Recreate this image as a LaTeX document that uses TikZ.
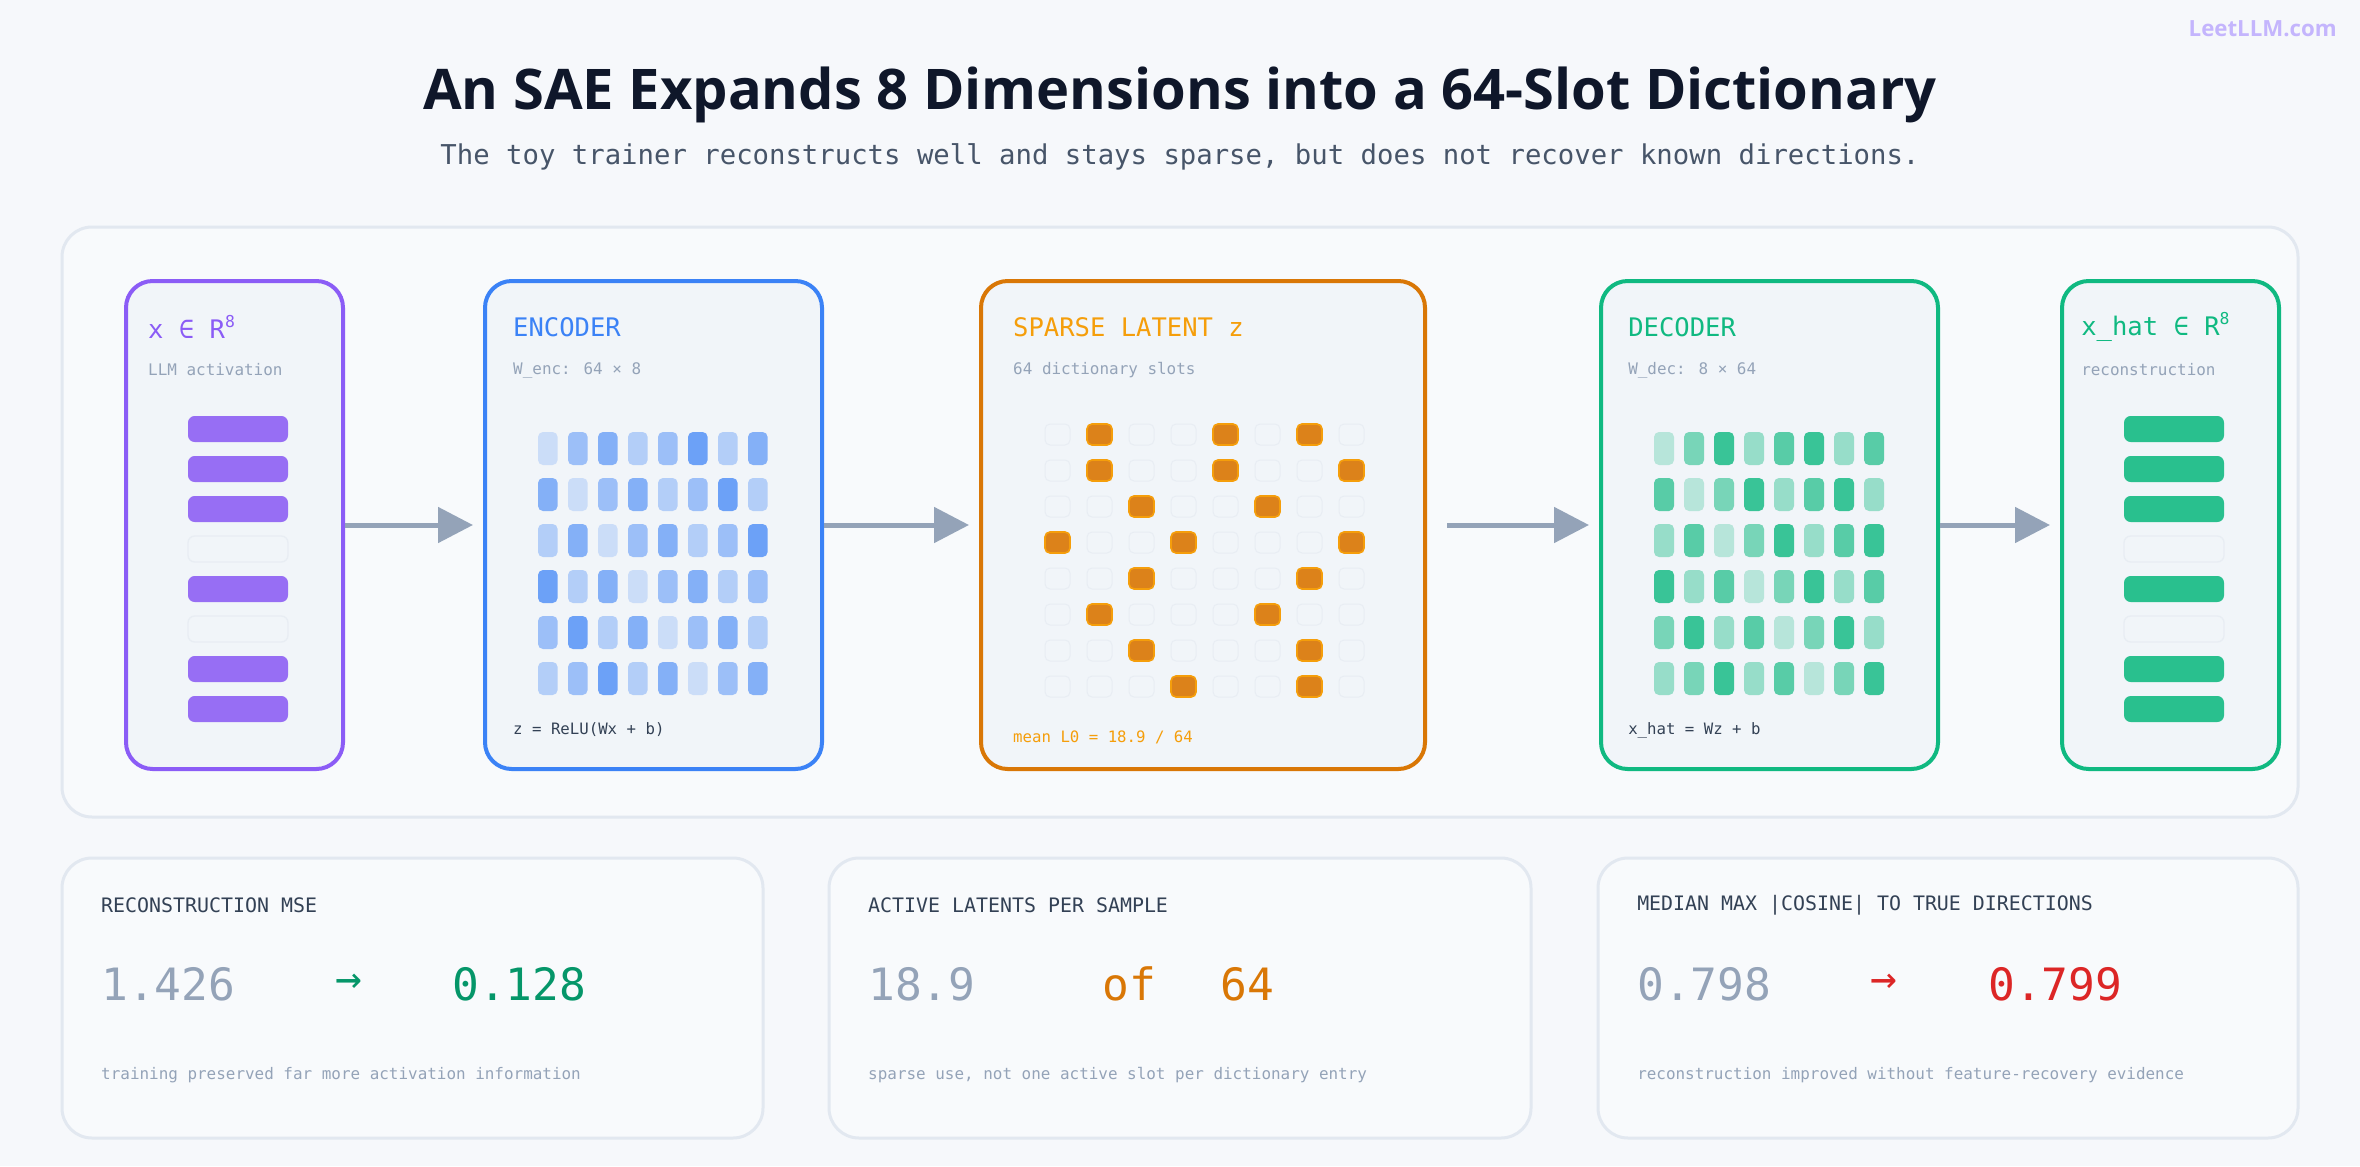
\documentclass[tikz,border=0pt]{standalone}
\usepackage{fontspec}
\usetikzlibrary{arrows.meta}
\setmainfont{Lato}
\newfontfamily\titlef{Open Sans}
\newfontfamily\monof{DejaVu Sans Mono}
\definecolor{bg}{HTML}{F6F8FB}
\definecolor{panelfill}{HTML}{F8FAFC}
\definecolor{panelline}{HTML}{E2E8F0}
\definecolor{boxfill}{HTML}{F1F5F9}
\definecolor{cpurple}{HTML}{8B5CF6}
\definecolor{cpurplebar}{HTML}{976EF4}
\definecolor{cblue}{HTML}{3B82F6}
\definecolor{corange}{HTML}{D97706}
\definecolor{corangelt}{HTML}{F59E0B}
\definecolor{cgreen}{HTML}{10B981}
\definecolor{cgreenbar}{HTML}{29C08E}
\definecolor{cslate}{HTML}{94A3B8}
\definecolor{cdark}{HTML}{334155}
\definecolor{ctitle}{HTML}{0F172A}
\definecolor{csub}{HTML}{475569}
\definecolor{cemerald}{HTML}{059669}
\definecolor{cred}{HTML}{DC2626}
\definecolor{clogo}{HTML}{C4B5FD}
\definecolor{emptyline}{HTML}{E8EDF3}
\newcommand{\supeight}{\raisebox{0.45em}{\fontsize{14pt}{14pt}\selectfont 8}}
\tikzset{
  panel/.style={draw=panelline, fill=panelfill, line width=0.9mm, rounded corners=9mm},
  stagebox/.style={line width=1.2mm, fill=boxfill, rounded corners=8mm, inner sep=0},
  arr/.style={draw=cslate, line width=1.5mm, -{Triangle[length=10.5mm,width=10.5mm]}, shorten >=3mm},
  btitle/.style={anchor=west, font=\monof\fontsize{21.8pt}{24pt}\selectfont, inner sep=0},
  bsub/.style={anchor=west, font=\monof\fontsize{13.6pt}{15pt}\selectfont, text=cslate, inner sep=0},
  bform/.style={anchor=west, font=\monof\fontsize{13.4pt}{15pt}\selectfont, inner sep=0},
  head/.style={anchor=west, font=\monof\fontsize{17pt}{19pt}\selectfont, text=cdark, inner sep=0},
  big/.style={anchor=west, font=\monof\fontsize{38pt}{40pt}\selectfont, inner sep=0},
  foot/.style={anchor=west, font=\monof\fontsize{13.6pt}{15pt}\selectfont, text=cslate, inner sep=0},
  vbar/.style={rounded corners=1.5mm},
  emptybar/.style={fill=boxfill, draw=emptyline, line width=0.4mm, rounded corners=2mm},
}
\begin{document}
\begin{tikzpicture}[x=0.3mm,y=-0.3mm]
\fill[bg] (0,0) rectangle (2360,1166);
\useasboundingbox (0,0) rectangle (2360,1166);
% logo
\node[anchor=east, text=clogo, font=\titlef\fontsize{19pt}{22pt}\selectfont\bfseries, inner sep=0] (logo) at (2337,29) {LeetLLM.com};
% title
\node[text=ctitle, inner sep=0] (title) at (1180,95) {\resizebox{454mm}{!}{\titlef\fontsize{42pt}{46pt}\selectfont\bfseries An SAE Expands 8 Dimensions into a 64-Slot Dictionary}};
\node[text=csub, font=\monof\fontsize{23.3pt}{25pt}\selectfont, inner sep=0] (subtitle) at (1180,157) {The toy trainer reconstructs well and stays sparse, but does not recover known directions.};
% main panel
\draw[panel] (62,227) rectangle (2298,817);
% stage boxes
\node[stagebox, draw=cpurple, minimum width=65.1mm, minimum height=146.4mm] (xin) at (234.5,525) {};
\node[stagebox, draw=cblue, minimum width=101.1mm, minimum height=146.4mm] (enc) at (653.5,525) {};
\node[stagebox, draw=corange, minimum width=133.2mm, minimum height=146.4mm] (sp) at (1203,525) {};
\node[stagebox, draw=cgreen, minimum width=101.1mm, minimum height=146.4mm] (dec) at (1769.5,525) {};
\node[stagebox, draw=cgreen, minimum width=65.1mm, minimum height=146.4mm] (xhat) at (2170.5,525) {};
\draw[arr] (xin.east) -- (enc.west);
\draw[arr] (enc.east) -- (sp.west);
\draw[arr] ([xshift=6mm]sp.east) -- (dec.west);
\draw[arr] (dec.east) -- (xhat.west);
% texts
\node[btitle, text=cpurple] (t1) at (148,327) {x ∈ R\supeight};
\node[bsub] (s1) at (148,370) {LLM activation};
\node[btitle, text=cblue] (t2) at (513,327) {ENCODER};
\node[bsub] (s2) at (513,370) {W\_enc: 64 × 8};
\node[bform, text=cdark] (f2) at (513,730) {z = ReLU(Wx + b)};
\node[btitle, text=corangelt] (t3) at (1013,327) {SPARSE LATENT z};
\node[bsub] (s3) at (1013,370) {64 dictionary slots};
\node[bform, text=corangelt] (f3) at (1013,737) {mean L0 = 18.9 / 64};
\node[btitle, text=cgreen] (t4) at (1628,327) {DECODER};
\node[bsub] (s4) at (1628,370) {W\_dec: 8 × 64};
\node[bform, text=cdark] (f4) at (1628,730) {x\_hat = Wz + b};
\node[btitle, text=cgreen] (t5) at (2081,327) {x\_hat ∈ R\supeight};
\node[bsub] (s5) at (2081,370) {reconstruction};
% vector bars
\foreach \i/\on in {0/1,1/1,2/1,3/0,4/1,5/0,6/1,7/1}{
  \pgfmathsetmacro{\yy}{416+40*\i}
  \ifnum\on=1
    \fill[cpurplebar, rounded corners=2mm] (188,\yy) rectangle (288,\yy+26);
    \fill[cgreenbar, rounded corners=2mm] (2124,\yy) rectangle (2224,\yy+26);
  \else
    \draw[emptybar] (188,\yy) rectangle (288,\yy+26);
    \draw[emptybar] (2124,\yy) rectangle (2224,\yy+26);
  \fi
}
% encoder / decoder grids
\foreach \r/\row in {0/{1,3,4,2,3,5,2,4},1/{4,1,3,4,2,3,5,2},2/{2,4,1,3,4,2,3,5},3/{5,2,4,1,3,4,2,3},4/{3,5,2,4,1,3,4,2},5/{2,3,5,2,4,1,3,4}}{
  \foreach \v [count=\c from 0] in \row {
    \pgfmathsetmacro{\pct}{int(8+13*\v)}
    \pgfmathsetmacro{\yy}{432+46*\r}
    \pgfmathsetmacro{\xx}{538+30*\c}
    \fill[vbar, cblue!\pct!boxfill] (\xx,\yy) rectangle (\xx+19.6,\yy+33);
  }
}
\foreach \r/\row in {0/{1,3,5,2,4,5,2,4},1/{4,1,3,5,2,4,5,2},2/{2,4,1,3,5,2,4,5},3/{5,2,4,1,3,5,2,4},4/{3,5,2,4,1,3,5,2},5/{2,3,5,2,4,1,3,5}}{
  \foreach \v [count=\c from 0] in \row {
    \pgfmathsetmacro{\pct}{int(12+14*\v)}
    \pgfmathsetmacro{\yy}{432+46*\r}
    \pgfmathsetmacro{\xx}{1654+30*\c}
    \fill[vbar, cgreen!\pct!boxfill] (\xx,\yy) rectangle (\xx+20,\yy+33);
  }
}
% sparse grid
\foreach \r/\row in {0/{0,1,0,0,1,0,1,0},1/{0,1,0,0,1,0,0,1},2/{0,0,1,0,0,1,0,0},3/{1,0,0,1,0,0,0,1},4/{0,0,1,0,0,0,1,0},5/{0,1,0,0,0,1,0,0},6/{0,0,1,0,0,0,1,0},7/{0,0,0,1,0,0,1,0}}{
  \foreach \v [count=\c from 0] in \row {
    \pgfmathsetmacro{\yy}{424+36*\r}
    \pgfmathsetmacro{\xx}{1045+42*\c}
    \ifnum\v=1
      \draw[fill=corange!92!white, draw=corangelt, line width=0.5mm, rounded corners=1.5mm] (\xx,\yy) rectangle (\xx+25,\yy+21);
    \else
      \draw[fill=boxfill, draw=emptyline, line width=0.3mm, rounded corners=1.5mm] (\xx,\yy) rectangle (\xx+25,\yy+21);
    \fi
  }
}
% bottom panels
\draw[panel] (62,858) rectangle (763,1138);
\draw[panel] (829,858) rectangle (1531,1138);
\draw[panel] (1598,858) rectangle (2298,1138);
\node[head] (h1) at (101,905) {RECONSTRUCTION MSE};
\node[big, text=cslate] (a1) at (101,984) {1.426};
\node[big, text=cemerald, anchor=center] (r1) at (349,984) {→};
\node[big, text=cemerald] (b1) at (452,984) {0.128};
\node[foot] (n1) at (101,1075) {training preserved far more activation information};
\node[head] (h2) at (868,905) {ACTIVE LATENTS PER SAMPLE};
\node[big, text=cslate] (a2) at (868,984) {18.9};
\node[big, text=corange, anchor=center] (r2) at (1129,984) {of};
\node[big, text=corange] (b2) at (1220,984) {64};
\node[foot] (n2) at (868,1075) {sparse use, not one active slot per dictionary entry};
\node[head] (h3) at (1637,905) {MEDIAN MAX |COSINE| TO TRUE DIRECTIONS};
\node[big, text=cslate] (a3) at (1637,984) {0.798};
\node[big, text=cred, anchor=center] (r3) at (1884,984) {→};
\node[big, text=cred] (b3) at (1988,984) {0.799};
\node[foot] (n3) at (1637,1075) {reconstruction improved without feature-recovery evidence};
\end{tikzpicture}
\end{document}
